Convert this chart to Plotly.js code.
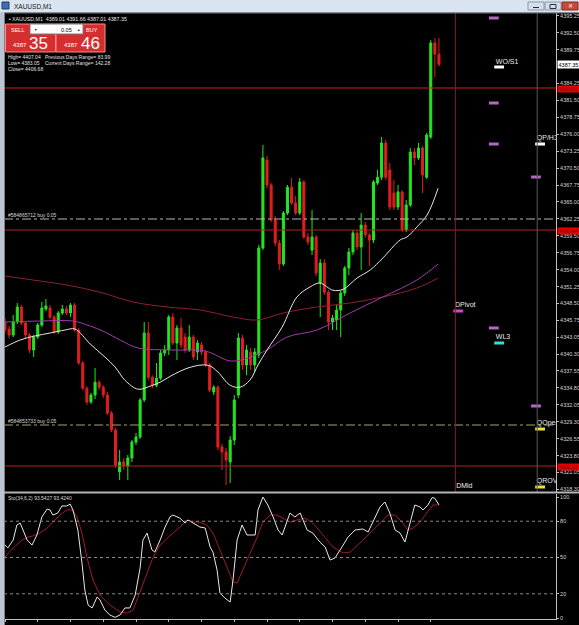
<!DOCTYPE html>
<html><head><meta charset="utf-8">
<script src="https://cdn.plot.ly/plotly-3.0.1.min.js"></script>
<style>html,body{margin:0;padding:0;background:#000;overflow:hidden}#chart{width:579px;height:625px}</style>
</head><body><div id="chart"></div>
<script>
// ---------------- DATA ----------------
const symbolName = 'XAUUSD,M1';
const opens = [4345.50,4344.36,4343.39,4345.50,4347.94,4345.34,4343.39,4340.95,4343.06,4345.01,
4347.61,4347.77,4346.31,4343.88,4346.96,4347.61,4346.96,4348.26,4344.20,4338.84,
4334.74,4332.51,4333.64,4335.72,4334.91,4333.64,4330.72,4327.96,4321.14,4322.76,
4322.11,4323.41,4326.01,4326.82,4332.83,4343.71,4336.53,4335.23,4336.37,4340.47,
4340.95,4346.31,4342.09,4344.53,4343.06,4340.95,4343.06,4340.63,4341.77,4340.63,
4338.52,4334.13,4334.91,4325.20,4324.39,4322.76,4326.33,4333.64,4342.90,4338.52,
4340.63,4338.52,4340.14,4357.52,4371.81,4367.75,4362.07,4358.33,4354.92,4363.20,
4367.39,4364.83,4363.20,4368.24,4359.31,4357.19,4359.31,4351.83,4355.08,4350.34,
4345.50,4345.82,4347.45,4350.21,4354.27,4356.87,4359.96,4357.68,4361.25,4359.63,
4358.82,4368.08,4369.01,4374.57,4370.19,4366.45,4364.18,4366.62,4360.44,4364.50,
4373.11,4372.14,4373.76,4369.01,4375.55,4390.82,4389.01];
const highs = [4346.15,4344.85,4346.64,4348.59,4348.26,4345.50,4343.71,4343.39,4345.34,4348.75,
4349.24,4348.26,4346.64,4347.29,4348.26,4348.10,4348.59,4348.59,4344.53,4339.17,
4335.07,4333.97,4338.03,4336.04,4335.23,4334.13,4331.05,4328.28,4324.71,4323.41,
4323.90,4326.33,4327.47,4333.16,4345.50,4345.50,4336.85,4338.84,4340.95,4341.77,
4346.64,4346.96,4345.01,4346.15,4343.71,4345.01,4343.39,4342.58,4342.25,4340.95,
4338.84,4335.23,4335.23,4325.69,4325.04,4326.98,4333.64,4343.71,4343.39,4341.77,
4341.28,4341.28,4358.01,4374.25,4372.46,4368.08,4362.72,4358.82,4363.53,4367.75,
4368.89,4365.97,4368.89,4368.56,4359.96,4363.69,4359.63,4355.73,4355.73,4350.66,
4346.64,4348.26,4350.66,4354.60,4357.52,4360.44,4360.44,4363.20,4361.74,4359.96,
4368.56,4370.19,4375.55,4375.06,4371.33,4368.56,4367.75,4366.90,4365.32,4373.76,
4373.76,4374.57,4374.09,4376.20,4391.30,4391.63,4391.66];
const lows = [4343.71,4342.90,4343.06,4345.18,4345.01,4342.90,4340.47,4339.82,4342.74,4344.69,
4347.29,4345.99,4343.55,4343.55,4346.64,4346.64,4346.31,4343.88,4338.52,4334.42,
4332.02,4332.18,4332.99,4334.42,4333.16,4330.40,4327.63,4321.79,4319.84,4321.46,
4319.84,4322.76,4325.52,4326.50,4332.51,4336.04,4334.74,4334.91,4336.04,4339.98,
4340.14,4341.77,4339.33,4341.28,4340.47,4340.63,4339.33,4339.33,4340.14,4338.19,
4334.13,4333.64,4324.71,4321.46,4319.03,4319.35,4325.52,4333.16,4337.70,4336.85,
4337.70,4337.38,4339.65,4357.19,4367.23,4361.74,4357.84,4353.95,4354.60,4362.88,
4364.50,4362.88,4362.88,4358.98,4358.01,4356.38,4352.97,4346.31,4349.89,4344.20,
4344.20,4344.20,4343.06,4349.72,4353.13,4356.38,4357.19,4353.95,4359.14,4354.60,
4358.33,4367.75,4368.56,4368.56,4363.69,4363.69,4363.69,4360.12,4360.12,4364.18,
4371.00,4371.81,4366.45,4368.73,4375.22,4385.29,4387.01];
const closes = [4344.20,4343.39,4345.50,4347.94,4345.34,4343.39,4340.95,4343.06,4345.01,4347.77,
4348.10,4346.31,4343.88,4346.96,4347.61,4346.96,4348.26,4344.20,4338.84,4334.74,
4332.51,4333.64,4335.72,4334.91,4333.64,4330.72,4327.96,4322.27,4322.76,4322.11,
4323.41,4326.01,4326.82,4332.83,4343.71,4336.53,4335.23,4336.37,4340.47,4340.95,
4346.31,4342.09,4344.53,4341.77,4340.95,4343.06,4339.82,4342.09,4340.63,4338.52,
4334.42,4334.91,4325.20,4324.39,4323.09,4326.33,4332.83,4342.90,4338.52,4340.95,
4338.52,4340.63,4357.52,4372.14,4367.75,4362.07,4358.33,4354.92,4363.20,4367.39,
4364.83,4363.20,4368.24,4359.31,4358.49,4359.31,4353.46,4355.08,4350.34,4345.50,
4346.15,4347.45,4350.21,4354.27,4356.87,4359.96,4357.68,4361.25,4359.63,4358.82,
4368.24,4369.01,4374.57,4369.01,4364.18,4364.18,4366.62,4360.44,4364.50,4373.11,
4372.14,4373.76,4369.38,4375.87,4390.82,4389.01,4387.35];
const barIndex = opens.map((_, i) => i);

// moving averages (bar index, price)
const maFastX = [0,3.7,7.3,11,14.7,17.1,20.8,24.4,26.9,29.3,32.5,35.4,37.9,40.8,44.7,48.1,50.1,52,55,57.4,59.8,61.8,64,67.7,71.3,74.5,76.9,80.1,82.6,86,89.2,92.3,96.5,98.2,100.6,103.1,105.8];
const maFastY = [4341.44,4342.58,4343.23,4343.71,4344.20,4344.36,4341.93,4339.82,4338.19,4336.04,4334.58,4335.07,4335.72,4336.85,4338.03,4338.52,4338.35,4337.38,4335.23,4334.91,4336.04,4338.52,4340.95,4344.69,4349.56,4351.19,4351.83,4350.66,4350.82,4352.65,4353.95,4355.90,4358.82,4359.31,4360.93,4362.88,4367.23];
const maMidX = [0,8.5,16.6,20.8,24.4,28.1,32.5,40.8,48.9,55,58.6,61.8,64,68.9,76.2,84.3,92.3,100.6,105.8];
const maMidY = [4345.50,4345.66,4345.66,4344.85,4343.88,4342.58,4341.28,4340.95,4340.79,4339.17,4339.49,4340.30,4340.95,4343.06,4344.20,4346.96,4349.56,4352.32,4354.92];
const maSlowX = [0,6.8,15.1,23.2,31.3,39.6,47.6,55.7,61.6,67.9,76.2,84.3,92.3,100.6,105.8];
const maSlowY = [4352.97,4352.32,4351.51,4350.34,4348.75,4347.94,4347.45,4346.31,4345.82,4346.96,4347.94,4348.59,4349.56,4351.02,4352.65];

// stochastic (34,6,2)
const stochKX = [0,0.7,2.0,2.9,3.7,4.4,5.4,6.6,7.8,9.0,10.3,11.0,11.7,12.9,13.9,15.1,15.9,16.6,17.8,18.8,19.5,20.3,21.3,22.5,23.2,24.4,25.6,26.9,28.1,29.3,30.5,31.8,33.0,33.7,34.7,35.9,36.6,37.9,39.1,40.3,41.0,42.7,44.0,44.7,45.9,47.6,48.9,50.1,50.8,51.8,52.5,53.7,55.0,55.7,56.7,57.9,59.1,60.3,61.1,61.8,63.0,64.2,65.5,66.7,67.7,68.4,69.6,70.8,72.1,73.8,75.2,76.9,78.2,79.4,80.6,82.3,83.8,85.5,87.4,88.7,90.4,91.6,92.8,94.0,95.3,96.5,97.7,98.9,100.1,101.4,102.1,103.3,104.3,105.0,106];
const stochK = [60.3,57.9,64.5,76.9,78.5,72.7,64.5,60.3,68.6,83.5,90.1,89.3,85.1,86.8,92.6,92.6,94.2,89.3,72.7,45.5,23.1,10.7,8.3,17.4,14.9,6.6,2.5,0.5,2.5,8.3,8.3,19.0,41.3,64.5,70.2,56.2,54.5,64.5,75.2,83.5,85.1,82.6,78.5,81.0,78.5,75.2,74.4,58.7,54.5,39.7,20.7,16.5,13.2,31.4,64.5,76.9,68.6,68.6,68.6,89.3,100,93.4,83.5,72.7,68.6,75.2,86.8,83.5,86.8,72.7,70.2,62.8,58.7,47.9,49.6,58.7,66.9,72.7,73.6,71.1,83.5,91.7,95.9,86.8,72.7,70.2,62.8,79.3,93.4,91.7,89.3,93.4,99.5,99.0,93.5];
const stochDX = [0,2.0,4.2,5.6,6.8,8.5,10.3,11.7,13.4,15.1,16.4,17.6,18.8,20.0,21.5,23.2,25.6,28.1,30.0,31.3,33.0,34.7,36.2,37.9,39.6,41.0,42.7,44.5,45.9,47.6,49.3,50.8,52.5,54.2,55.7,56.7,58.1,59.8,61.6,63.0,64.7,66.4,67.9,69.6,71.3,73.3,75.2,77.7,80.1,82.6,84.3,86.7,89.2,91.6,93.6,95.3,97.0,98.4,99.7,101.4,103.1,104.5,106];
const stochD = [50.4,57.9,64.5,66.9,67.8,70.2,74.4,79.3,85.1,89.3,89.3,83.5,70.2,50.4,31.4,19.0,10.7,5.0,4.1,6.6,21.5,37.2,50.4,60.3,66.1,70.2,75.2,81.0,79.3,79.3,76.9,70.2,56.2,42.1,29.8,28.9,39.7,53.7,66.9,79.3,85.1,85.1,82.6,79.3,81.0,82.6,78.5,68.6,58.7,53.7,54.5,62.0,70.2,78.5,85.1,85.1,79.3,72.7,74.4,79.3,86.8,93.4,93.4];
const stochLevels = [20, 50, 80];
const stochTicks = [0, 20, 50, 80, 100];
const stochTitle = 'Sto(34,6,2) 93.5427 93.4240';

// price scale labels (4387.00 sits under the current-price tag)
const priceTicks = [4395.25,4392.50,4389.75,4384.25,4381.50,4378.75,4376.00,4373.25,4370.50,4367.75,4365.00,4362.25,4359.50,4356.75,4354.00,4351.25,4348.50,4345.75,4343.05,4340.30,4337.55,4334.80,4332.05,4329.30,4326.55,4323.80,4321.05,4318.30];
// time scale labels
const timeTicks = [0,8,16,24,32,40,48,56,64,72,80,88,96,104];
const timeLabels = ['11 Dec 2025','11 Dec 12:57','11 Dec 13:05','11 Dec 13:13','11 Dec 13:21','11 Dec 13:29','11 Dec 13:37','11 Dec 13:45','11 Dec 13:53','11 Dec 14:01','11 Dec 14:09','11 Dec 14:17','11 Dec 14:25','11 Dec 14:33'];

// levels and objects
const lastBar = {o: 4389.01, h: 4391.66, l: 4387.01, c: 4387.35};
const redLevels = [4383.51, 4360.44, 4322.11];
const orderLevels = [4362.23, 4328.77];
const orderLabels = ['#584865712 buy 0.05', '#584853733 buy 0.05'];
const orderColors = ['#b8b8b8', '#a8a070'];
const vLineBars = [110, 130];
const vLineColors = ['#7a2424', '#5a5a5a'];
const pivotX = [119.4,119.4,119.4,129.7,119.4,129.7,120.7,130.7,110.7,120.7,130.7,130.7];
const pivotY = [4394.88,4381.07,4374.41,4369.05,4344.53,4331.86,4386.92,4374.41,4347.29,4342.09,4328.12,4318.70];
const pivotColors = ['#b368c4','#b368c4','#b368c4','#b368c4','#b368c4','#b368c4','#ffffff','#ffffff','#d840d8','#30dede','#f0e040','#f0e040'];
const pivotLabelX = [119.9,129.9,109.9,119.9,129.9,129.9,110.2];
const pivotLabelY = [4387.1,4374.7,4347.6,4342.4,4328.5,4319.0,4318.2];
const pivotLabels = ['WO/S1','QP/H3','DPivot','WL3','QOpen','QROV','DMid'];
const sellPrice = ['4387', '35'];
const buyPrice = ['4387', '46'];
const lotSize = '0.05';
const infoLines = [['High= 4407.04', 'Previous Days Range= 83.99'], ['Low= 4383.05', 'Current Days Range= 142.28'], ['Close= 4406.68', '']];

// ---------------- LAYOUT ----------------
const W = 579, H = 625;
const P = v => v / W, Q = v => 1 - v / H;
const FONT = 'Liberation Sans, Arial, sans-serif';
const xDom = [P(4), P(556)];
const xRange = [-0.244, 134.59];

const traces = [
  {type: 'scatter', mode: 'lines', x: maSlowX, y: maSlowY, line: {color: '#8e2232', width: 1, shape: 'spline'}, hoverinfo: 'skip'},
  {type: 'scatter', mode: 'lines', x: maMidX, y: maMidY, line: {color: '#a03ca8', width: 1, shape: 'spline'}, hoverinfo: 'skip'},
  {type: 'scatter', mode: 'lines', x: maFastX, y: maFastY, line: {color: '#e6e6e6', width: 1, shape: 'spline'}, hoverinfo: 'skip'},
  {type: 'candlestick', x: barIndex, open: opens, high: highs, low: lows, close: closes,
   increasing: {line: {color: '#22e622', width: 1}, fillcolor: '#22e622'},
   decreasing: {line: {color: '#e21e1e', width: 1}, fillcolor: '#e21e1e'},
   whiskerwidth: 0, hoverinfo: 'skip'},
  {type: 'scatter', mode: 'markers', x: pivotX, y: pivotY, cliponaxis: true,
   marker: {symbol: 'line-ew', size: 7, line: {width: 3, color: pivotColors}}, hoverinfo: 'skip'},
  {type: 'scatter', mode: 'text', x: pivotLabelX, y: pivotLabelY, text: pivotLabels, cliponaxis: true,
   textposition: 'top right', textfont: {family: FONT, size: 7, color: '#e8e8e8'}, hoverinfo: 'skip'},
  {type: 'scatter', mode: 'lines', x: stochDX, y: stochD, yaxis: 'y2', line: {color: '#a01a2a', width: 1}, hoverinfo: 'skip'},
  {type: 'scatter', mode: 'lines', x: stochKX, y: stochK, yaxis: 'y2', line: {color: '#e8e8e8', width: 1}, hoverinfo: 'skip'}
];

const shapes = [];
const annotations = [];
function rect(x0, y0, x1, y1, fill, line, lw) {
  shapes.push({type: 'rect', xref: 'paper', yref: 'paper', x0: P(x0), x1: P(x1), y0: Q(y1), y1: Q(y0),
    fillcolor: fill, line: {color: line || fill, width: lw === undefined ? 0 : lw}, layer: 'above'});
}
function hline(x0, x1, y, color, w) {
  shapes.push({type: 'line', xref: 'paper', yref: 'paper', x0: P(x0), x1: P(x1), y0: Q(y), y1: Q(y), line: {color: color, width: w || 1}, layer: 'above'});
}
function txt(x, y, s, size, color, anchor, extra) {
  annotations.push(Object.assign({xref: 'paper', yref: 'paper', x: P(x), y: Q(y), text: s, showarrow: false,
    xanchor: anchor || 'left', yanchor: 'middle', font: {family: FONT, size: size, color: color}}, extra || {}));
}

// horizontal level lines
redLevels.forEach((lv, i) => {
  shapes.push({type: 'line', xref: 'paper', yref: 'y', x0: xDom[0], x1: xDom[1], y0: lv, y1: lv, line: {color: i === 0 ? '#d02020' : '#b02424', width: 1}});
  annotations.push({xref: 'paper', yref: 'y', x: P(557), y: lv, xanchor: 'left', yanchor: 'middle', showarrow: false, yshift: -1,
    text: lv.toFixed(2), bgcolor: '#e60000', width: 21, height: 6, borderpad: 0, font: {family: FONT, size: 5, color: '#7a0000'}});
});
orderLevels.forEach((lv, i) => {
  shapes.push({type: 'line', xref: 'paper', yref: 'y', x0: xDom[0], x1: xDom[1], y0: lv, y1: lv, line: {color: orderColors[i], width: 1, dash: 'dashdot'}});
  annotations.push({xref: 'paper', yref: 'y', x: P(6), y: lv, xanchor: 'left', yanchor: 'bottom', showarrow: false,
    text: orderLabels[i], font: {family: FONT, size: 5, color: '#d8d8d8'}, yshift: -1});
});
vLineBars.forEach((b, i) => {
  shapes.push({type: 'line', xref: 'x', yref: 'paper', x0: b, x1: b, y0: Q(492), y1: Q(13), line: {color: vLineColors[i], width: 1}});
});
stochLevels.forEach(lv => {
  shapes.push({type: 'line', xref: 'paper', yref: 'y2', x0: xDom[0], x1: xDom[1], y0: lv, y1: lv, line: {color: '#8a8a8a', width: 1, dash: 'dot'}});
});

// window chrome
rect(0, 0, 579, 12, '#dae4f0');
hline(0, 579, 12.5, '#9aa8b8', 1);
rect(0, 12, 4, 625, '#bcc6d2');
rect(2, 2, 9, 9, '#3c6fb0', '#1e3c70', 1);
txt(12, 6.5, symbolName, 6.5, '#1a1a1a');
rect(528, 2, 544, 10, '#d4deea', '#8898ac', 1);
rect(545, 2, 561, 10, '#d4deea', '#8898ac', 1);
rect(562, 2, 578, 10, '#c8483a', '#8a2a20', 1);
hline(533, 539, 7.5, '#303030', 1);
rect(550, 4.5, 556, 8.5, 'rgba(0,0,0,0)', '#303030', 1);
txt(570, 6, '✕', 6, '#ffffff', 'center');
// chart borders
hline(4, 579, 13, '#707070', 1);
shapes.push({type: 'line', xref: 'paper', yref: 'paper', x0: P(4.5), x1: P(4.5), y0: Q(625), y1: Q(13), line: {color: '#808080', width: 1}, layer: 'above'});
hline(4, 579, 492.5, '#b4b4b4', 2);

// header text
txt(6, 19, '▲', 3.5, '#d0d0d0');
txt(10, 19, symbolName + '  ' + [lastBar.o, lastBar.h, lastBar.l, lastBar.c].map(v => v.toFixed(2)).join(' '), 5.3, '#e4e4e4');

// one-click trading panel
rect(5.5, 24, 55.5, 52, '#d52e2e', '#ff8a8a', 1);
rect(56, 24, 105, 52, '#d52e2e', '#ff8a8a', 1);
rect(30, 24, 83, 34, '#ffffff', '#7a7a7a', 1);
txt(17, 29.5, 'SELL', 5.5, '#ffffff', 'center');
txt(92, 29.5, 'BUY', 5.5, '#ffffff', 'center');
txt(35, 29.5, '▼', 3.5, '#202020', 'center');
txt(78, 29.5, '▲', 3.5, '#202020', 'center');
txt(66, 29.5, lotSize, 5.5, '#000000', 'center');
txt(19.5, 45, sellPrice[0], 6, '#ffffff', 'center');
txt(38.5, 43.5, sellPrice[1], 17, '#ffffff', 'center');
txt(70.5, 45, buyPrice[0], 6, '#ffffff', 'center');
txt(90, 43.5, buyPrice[1], 17, '#ffffff', 'center');
infoLines.forEach((ln, i) => {
  const yy = [57, 63, 69][i];
  txt(6, yy, ln[0], 5, '#e0e0e0');
  if (ln[1]) txt(43, yy, ln[1], 5, '#e0e0e0');
});

// current price tag
annotations.push({xref: 'paper', yref: 'y', x: P(557), y: lastBar.c, xanchor: 'left', yanchor: 'middle', showarrow: false,
  text: lastBar.c.toFixed(2), bgcolor: '#ffffff', width: 21, height: 7, borderpad: 0, font: {family: FONT, size: 5.5, color: '#000000'}});

// stochastic header
txt(6, 497.5, stochTitle, 5, '#d8d8d8');

const layout = {
  width: W, height: H,
  margin: {l: 0, r: 0, t: 0, b: 0, pad: 0},
  paper_bgcolor: '#000000', plot_bgcolor: '#000000',
  showlegend: false, boxgap: 0.3,
  font: {family: FONT, color: '#d0d0d0'},
  xaxis: {domain: xDom, range: xRange, anchor: 'y2', rangeslider: {visible: false}, showgrid: false, zeroline: false,
    showline: true, linecolor: '#c0c0c0', linewidth: 1, ticks: 'outside', ticklen: 2, tickcolor: '#c0c0c0',
    tickvals: timeTicks, ticktext: timeLabels, tickfont: {family: FONT, size: 5.5, color: '#c8c8c8'}, fixedrange: true},
  yaxis: {domain: [Q(492), Q(13)], range: [4317.89, 4395.69], side: 'right', anchor: 'x', showgrid: false, zeroline: false,
    showline: true, linecolor: '#c0c0c0', linewidth: 1, ticks: 'outside', ticklen: 2, tickcolor: '#c0c0c0',
    tickvals: priceTicks, ticktext: priceTicks.map(v => v.toFixed(2)), tickfont: {family: FONT, size: 5.5, color: '#d4d4d4'}, fixedrange: true},
  yaxis2: {domain: [Q(619), Q(494)], range: [-0.83, 102.5], side: 'right', anchor: 'x', showgrid: false, zeroline: false,
    showline: true, linecolor: '#c0c0c0', linewidth: 1, ticks: 'outside', ticklen: 2, tickcolor: '#c0c0c0',
    tickvals: stochTicks, ticktext: stochTicks.map(String), tickfont: {family: FONT, size: 5.5, color: '#d4d4d4'}, fixedrange: true},
  shapes: shapes,
  annotations: annotations
};

Plotly.newPlot('chart', traces, layout, {staticPlot: true, displayModeBar: false});
</script>
</body></html>
